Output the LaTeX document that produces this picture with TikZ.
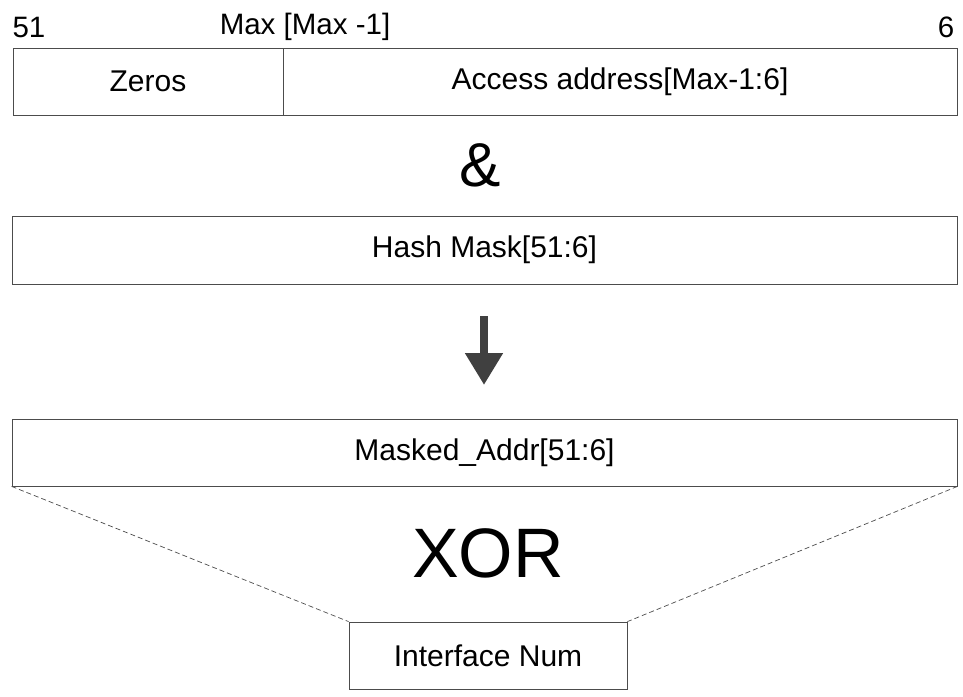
\documentclass[tikz,border=0pt]{standalone}
\usepackage{fontspec}
\setmainfont{Liberation Sans}
\usetikzlibrary{arrows.meta}
\begin{document}
\begin{tikzpicture}[x=1pt,y=-1pt,
  box/.style={draw=black!70,line width=0.8pt,inner sep=0pt},
  txt/.style={font=\fontsize{30}{34}\selectfont},
  lbl/.style={font=\fontsize{29.5}{34}\selectfont}]
\useasboundingbox (0,0) rectangle (963,696);
\node[box,minimum width=270,minimum height=67,txt] (zeros) at (148,81.5) {Zeros};
\node[box,minimum width=674,minimum height=67,txt] (acc) at (620,81.5) {Access address[Max-1:6]};
\node[lbl] (l51) at (29,27) {51};
\node[lbl] (lmax) at (305,27) {Max [Max -1]};
\node[lbl] (l6) at (946,27) {6};
\node[font=\fontsize{62}{64}\selectfont] (amp) at (480,165) {\&};
\node[box,minimum width=945,minimum height=68,txt] (hash) at (484.5,250) {Hash Mask[51:6]};
\coordinate (a1) at (484,316);
\coordinate (a2) at (484,385);
\draw[line width=8pt,draw=black!75,-{Triangle[length=32pt,width=36pt]}] (a1) -- (a2);
\node[box,minimum width=945,minimum height=67,txt] (mask) at (484.5,452.5) {Masked\_Addr[51:6]};
\node[font=\fontsize{70}{72}\selectfont] (xor) at (488,553) {XOR};
\node[box,minimum width=278,minimum height=67,txt] (ifn) at (488,655.5) {Interface Num};
\draw[dash pattern=on 5pt off 3pt,black!70,line width=0.7pt] (mask.south west) -- (ifn.north west);
\draw[dash pattern=on 5pt off 3pt,black!70,line width=0.7pt] (mask.south east) -- (ifn.north east);
\end{tikzpicture}
\end{document}
